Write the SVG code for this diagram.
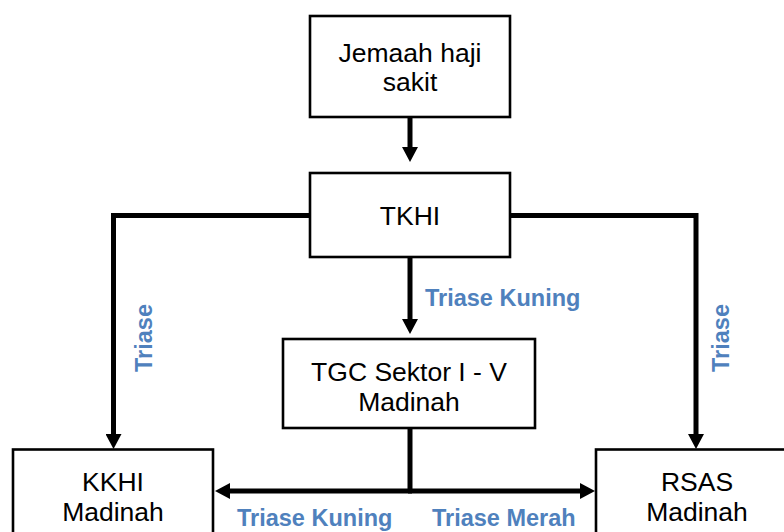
<svg xmlns="http://www.w3.org/2000/svg" width="784" height="532" viewBox="0 0 784 532">
<style>
.box{fill:#fff;stroke:#000;stroke-width:2.6}
.t{font-family:"Liberation Sans",Arial,sans-serif;font-size:26.5px;fill:#000;text-anchor:middle}
.lbl{font-family:"Liberation Sans",Arial,sans-serif;font-size:23.5px;font-weight:bold;fill:#4F81BD}
.c{fill:none;stroke:#000;stroke-width:5;stroke-linejoin:miter}
</style>
<defs>
<marker id="ah" markerUnits="userSpaceOnUse" markerWidth="16" markerHeight="16" refX="5" refY="8" orient="auto">
<path d="M0,0 L15,8 L0,16 Z" fill="#000"/>
</marker>
</defs>
<rect width="784" height="532" fill="#fff"/>
<g id="connectors">
<path class="c" d="M410,117 V152" marker-end="url(#ah)"/>
<path class="c" d="M410,257 V324" marker-end="url(#ah)"/>
<path class="c" d="M310,215.5 H113.5 V439" marker-end="url(#ah)"/>
<path class="c" d="M510,215.5 H696 V439" marker-end="url(#ah)"/>
<path class="c" d="M410,428 V491"/>
<path class="c" d="M412,491 H225" marker-end="url(#ah)"/>
<path class="c" d="M408,491 H585" marker-end="url(#ah)"/>
</g>
<g id="n-jemaah">
<rect class="box" x="310" y="16" width="200" height="101"/>
<text class="t" x="410" y="62">Jemaah haji</text>
<text class="t" x="410" y="91">sakit</text>
</g>
<g id="n-tkhi">
<rect class="box" x="310" y="173" width="200" height="84"/>
<text class="t" x="410" y="225">TKHI</text>
</g>
<g id="n-tgc">
<rect class="box" x="283" y="339" width="252" height="89"/>
<text class="t" x="409" y="381">TGC Sektor I - V</text>
<text class="t" x="409" y="411">Madinah</text>
</g>
<g id="n-kkhi">
<rect class="box" x="13" y="449.5" width="200" height="95"/>
<text class="t" x="113" y="491">KKHI</text>
<text class="t" x="113" y="521">Madinah</text>
</g>
<g id="n-rsas">
<rect class="box" x="596" y="449.5" width="200" height="95"/>
<text class="t" x="697" y="491">RSAS</text>
<text class="t" x="697" y="521">Madinah</text>
</g>
<g id="labels">
<text class="lbl" x="425" y="306">Triase Kuning</text>
<text class="lbl" x="237" y="526">Triase Kuning</text>
<text class="lbl" x="432" y="526">Triase Merah</text>
<text class="lbl" text-anchor="middle" transform="translate(152,338) rotate(-90)">Triase</text>
<text class="lbl" text-anchor="middle" transform="translate(729,338) rotate(-90)">Triase</text>
</g>
</svg>
